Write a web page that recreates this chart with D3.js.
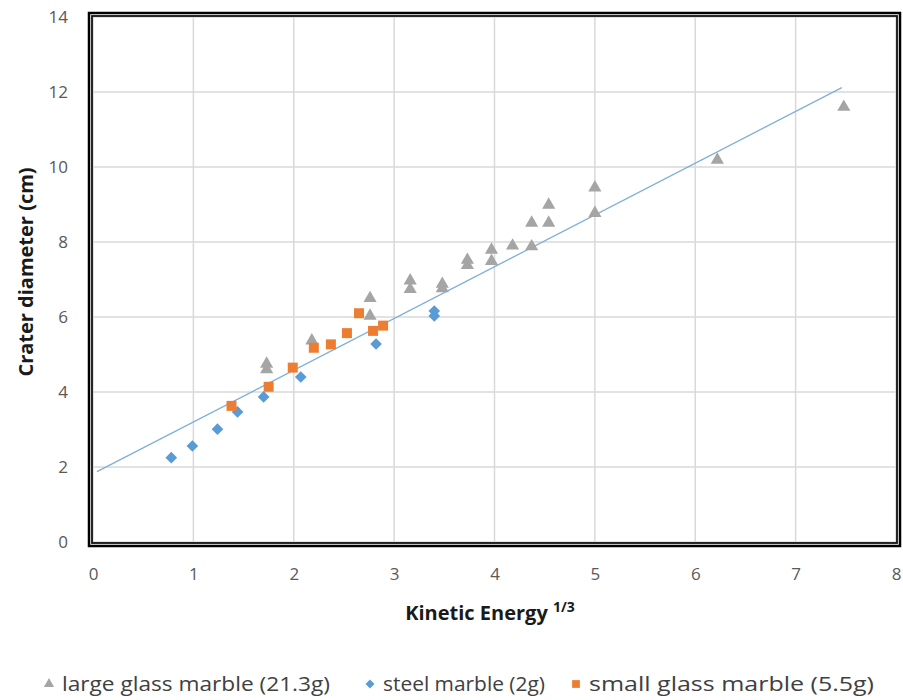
<!DOCTYPE html>
<html>
<head>
<meta charset="utf-8">
<script src="https://cdn.jsdelivr.net/npm/d3@7"></script>
<style>
  body { margin: 0; background: #fff; }
  svg { font-family: "Open Sans", Lato, sans-serif; }
</style>
</head>
<body>
<svg id="chart" width="903" height="700"></svg>
<script>
// DATA
var largeX = [1.73, 1.73, 2.18, 2.76, 2.76, 3.16, 3.16, 3.48, 3.48, 3.73, 3.73, 3.97, 3.97, 4.18, 4.37, 4.37, 4.54, 4.54, 5.0, 5.0, 6.22, 7.48];
var largeY = [4.75, 4.6, 5.37, 6.5, 6.03, 6.97, 6.74, 6.88, 6.76, 7.52, 7.38, 7.79, 7.49, 7.9, 8.51, 7.88, 8.99, 8.51, 9.45, 8.77, 10.19, 11.6];

var steelX = [0.78, 0.99, 1.24, 1.44, 1.70, 2.07, 2.82, 3.40, 3.40];
var steelY = [2.25, 2.56, 3.01, 3.47, 3.87, 4.40, 5.28, 6.16, 6.03];

var smallX = [1.38, 1.75, 1.99, 2.20, 2.37, 2.53, 2.65, 2.79, 2.89];
var smallY = [3.63, 4.14, 4.65, 5.18, 5.27, 5.57, 6.10, 5.63, 5.77];

var trendSlope = 1.38;
var trendIntercept = 1.82;
var trendRange = [0.04, 7.46];

var xTicks = [0, 1, 2, 3, 4, 5, 6, 7, 8];
var yTicks = [0, 2, 4, 6, 8, 10, 12, 14];

var seriesNames = ["large glass marble (21.3g)", "steel marble (2g)", "small glass marble (5.5g)"];
var seriesColors = ["#a5a5a5", "#5b9bd5", "#ed7d31"];

//SETUP
const svg = d3.select("#chart");
const padding = { top: 17, right: 6, bottom: 158, left: 93 };
const width = +svg.attr("width");
const height = +svg.attr("height");

var xScale = d3.scaleLinear()
  .domain([0, 8])
  .range([padding.left, width - padding.right - 1]);

var yScale = d3.scaleLinear()
  .domain([0, 14])
  .range([height - padding.bottom, padding.top]);

// grid
svg.append("g")
  .selectAll("line")
  .data(xTicks)
  .enter()
  .append("line")
  .attr("x1", d => xScale(d)).attr("x2", d => xScale(d))
  .attr("y1", yScale(0)).attr("y2", yScale(14))
  .attr("stroke", "#d9d9d9")
  .attr("stroke-width", 1.5);

svg.append("g")
  .selectAll("line")
  .data(yTicks)
  .enter()
  .append("line")
  .attr("y1", d => yScale(d)).attr("y2", d => yScale(d))
  .attr("x1", xScale(0)).attr("x2", xScale(8))
  .attr("stroke", "#d9d9d9")
  .attr("stroke-width", 1.5);

// axes (labels only)
var xAxis = d3.axisBottom(xScale).tickValues(xTicks).tickSize(0).tickPadding(26);
svg.append("g")
  .attr("class", "x-axis")
  .attr("transform", `translate(0,${yScale(0)})`)
  .call(xAxis);

var yAxis = d3.axisLeft(yScale).tickValues(yTicks).tickSize(0).tickPadding(25);
svg.append("g")
  .attr("class", "y-axis")
  .attr("transform", `translate(${xScale(0)},0)`)
  .call(yAxis);

svg.selectAll(".x-axis path, .y-axis path").remove();
svg.selectAll(".x-axis text, .y-axis text")
  .attr("fill", "#595959")
  .style("font-family", "'Open Sans', sans-serif")
  .style("font-size", "17px");

// border (double line)
var bx0 = xScale(0), bx1 = xScale(8), by0 = yScale(14), by1 = yScale(0);
svg.append("rect")
  .attr("x", bx0 - 4).attr("y", by0 - 4)
  .attr("width", bx1 - bx0 + 8).attr("height", by1 - by0 + 8)
  .attr("fill", "none").attr("stroke", "#000").attr("stroke-width", 2.5);
svg.append("rect")
  .attr("x", bx0 - 1).attr("y", by0 - 1)
  .attr("width", bx1 - bx0 + 2).attr("height", by1 - by0 + 2)
  .attr("fill", "none").attr("stroke", "#111").attr("stroke-width", 1.8);

// trend line
svg.append("line")
  .attr("x1", xScale(trendRange[0]))
  .attr("y1", yScale(trendSlope * trendRange[0] + trendIntercept))
  .attr("x2", xScale(trendRange[1]))
  .attr("y2", yScale(trendSlope * trendRange[1] + trendIntercept))
  .attr("stroke", "#7fb0d8")
  .attr("stroke-width", 1.3);

var triangle = d3.symbol().type(d3.symbolTriangle).size(75);
var square = d3.symbol().type(d3.symbolSquare).size(100);
var diamond = d3.symbol().type(d3.symbolSquare).size(68);

function drawSeries(xs, ys, sym, color, rot) {
  svg.append("g")
    .selectAll("path")
    .data(xs.map((x, i) => ({ x: x, y: ys[i] })))
    .enter()
    .append("path")
    .attr("d", sym)
    .attr("transform", d => `translate(${xScale(d.x)},${yScale(d.y)}) rotate(${rot})`)
    .attr("fill", color);
}

drawSeries(largeX, largeY, triangle, seriesColors[0], 0);
drawSeries(steelX, steelY, diamond, seriesColors[1], 45);
drawSeries(smallX, smallY, square, seriesColors[2], 0);

// axis titles
var xt = svg.append("text")
  .attr("x", 490)
  .attr("y", 620)
  .style("text-anchor", "middle")
  .style("font-size", "20px")
  .style("font-weight", "bold")
  .attr("fill", "#1a1a1a");
xt.append("tspan").text("Kinetic Energy ");
xt.append("tspan").attr("dy", -8).style("font-size", "14px").text("1/3");

svg.append("text")
  .attr("transform", "rotate(-90)")
  .attr("x", -272)
  .attr("y", 33)
  .style("text-anchor", "middle")
  .style("font-size", "20px")
  .style("font-weight", "bold")
  .attr("fill", "#1a1a1a")
  .text("Crater diameter (cm)");

// legend
var legendX = [49, 370, 576];
var legendW = [268, 162, 285];
var legendSyms = [
  d3.symbol().type(d3.symbolTriangle).size(45),
  d3.symbol().type(d3.symbolSquare).size(40),
  d3.symbol().type(d3.symbolSquare).size(60)
];
var legendRot = [0, 45, 0];
var legend = svg.append("g").attr("class", "legend");
seriesNames.forEach((name, i) => {
  legend.append("path")
    .attr("d", legendSyms[i])
    .attr("transform", `translate(${legendX[i]},${684}) rotate(${legendRot[i]})`)
    .attr("fill", seriesColors[i]);
  legend.append("text")
    .attr("x", legendX[i] + 13)
    .attr("y", 691)
    .attr("textLength", legendW[i])
    .attr("lengthAdjust", "spacingAndGlyphs")
    .style("font-size", "20px")
    .attr("fill", "#404040")
    .text(name);
});
</script>
</body>
</html>
